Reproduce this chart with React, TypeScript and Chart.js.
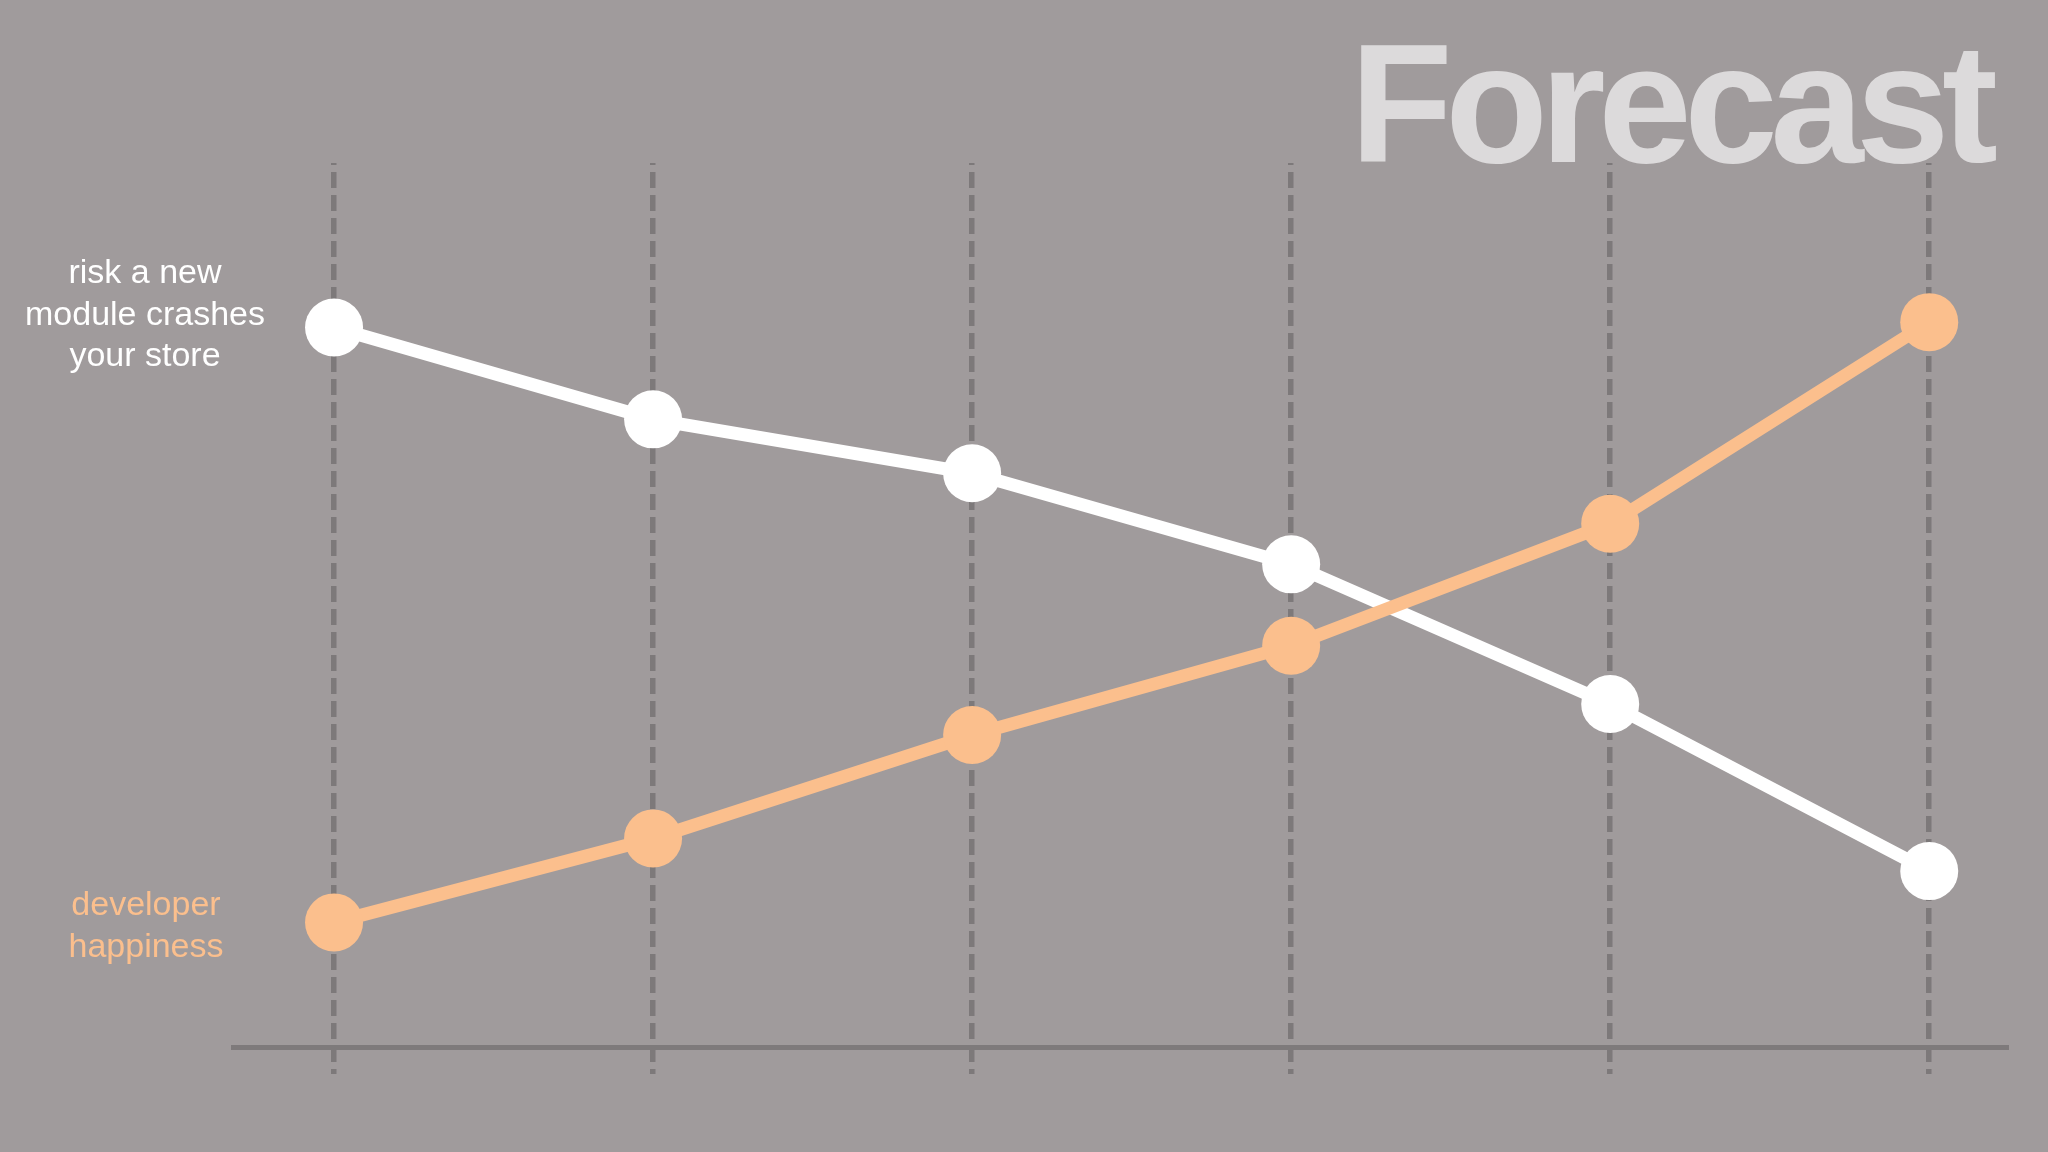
import React, { useEffect, useRef } from "react";
import { Chart, registerables } from "chart.js";

Chart.register(...registerables);

// ---- data ----
const periods = [0, 1, 2, 3, 4, 5];
const riskValues = [81.4, 71.0, 64.9, 54.6, 38.8, 19.9];
const happinessValues = [14.1, 23.6, 35.3, 45.4, 59.2, 82.0];
const baselineValue = [0];
const titleText = "Forecast";
const riskLabel = ["risk a new", "module crashes", "your store"];
const happinessLabel = ["developer", "happiness"];

// ---- styles ----
const BG = "#a09b9c";
const ORANGE = "#fbbf8d";
const WHITE = "#ffffff";
const GRID = "#7d797a";
const AXIS = "#7e7a7b";
const TITLE_COLOR = "#dcdadb";

const textPlugin = {
  id: "forecastText",
  afterDraw(chart: any) {
    const ctx = chart.ctx as CanvasRenderingContext2D;
    ctx.save();
    // title
    ctx.font = 'bold 168px "Liberation Sans", Arial, Helvetica, sans-serif';
    ctx.fillStyle = TITLE_COLOR;
    ctx.textAlign = "left";
    ctx.textBaseline = "alphabetic";
    const plain = ctx.measureText(titleText).width;
    const targetWidth = 648;
    (ctx as any).letterSpacing = (targetWidth - plain) / (titleText.length - 1) + "px";
    ctx.fillText(titleText, 1350, 162);
    (ctx as any).letterSpacing = "0px";

    // series labels
    ctx.font = '34px "Liberation Sans", Arial, Helvetica, sans-serif';
    ctx.textAlign = "center";
    ctx.fillStyle = WHITE;
    riskLabel.forEach((line, i) => ctx.fillText(line, 145, 283 + i * 41.5));
    ctx.fillStyle = ORANGE;
    happinessLabel.forEach((line, i) => ctx.fillText(line, 146, 915 + i * 41.5));
    ctx.restore();
  },
};

export default function App() {
  const canvasRef = useRef<HTMLCanvasElement | null>(null);

  useEffect(() => {
    const canvas = canvasRef.current;
    if (!canvas) return;
    const chart = new Chart(canvas, {
      type: "line",
      data: {
        datasets: [
          {
            label: "developer happiness",
            data: periods.map((x, i) => ({ x, y: happinessValues[i] })),
            borderColor: ORANGE,
            backgroundColor: ORANGE,
            borderWidth: 13,
            pointRadius: 29,
            pointHoverRadius: 29,
            pointBorderWidth: 0,
            pointBackgroundColor: ORANGE,
            tension: 0,
            clip: false as any,
          },
          {
            label: "risk a new module crashes your store",
            data: periods.map((x, i) => ({ x, y: riskValues[i] })),
            borderColor: WHITE,
            backgroundColor: WHITE,
            borderWidth: 13,
            pointRadius: 29,
            pointHoverRadius: 29,
            pointBorderWidth: 0,
            pointBackgroundColor: WHITE,
            tension: 0,
            clip: false as any,
          },
        ],
      },
      options: {
        animation: false,
        responsive: false,
        devicePixelRatio: 1,
        events: [],
        layout: { padding: { left: 231, right: 39, top: 163, bottom: 78 } },
        plugins: {
          legend: { display: false },
          title: { display: false },
          tooltip: { enabled: false },
        },
        scales: {
          x: {
            type: "linear",
            min: -0.323,
            max: 5.25,
            afterBuildTicks: (scale: any) => {
              scale.ticks = periods.map((v) => ({ value: v }));
            },
            ticks: { display: false },
            grid: {
              display: true,
              color: GRID,
              lineWidth: 5.5,
              drawTicks: false,
            },
            border: {
              display: false,
              dash: [16, 7],
              dashOffset: 14,
            },
          },
          y: {
            type: "linear",
            min: -3.05,
            max: 100,
            display: true,
            afterBuildTicks: (scale: any) => {
              scale.ticks = baselineValue.map((v) => ({ value: v }));
            },
            ticks: { display: false },
            grid: {
              display: true,
              color: AXIS,
              lineWidth: 5,
              drawTicks: false,
            },
            border: { display: false },
          },
        },
      },
      plugins: [textPlugin],
    });
    return () => chart.destroy();
  }, []);

  return (
    <div
      style={{
        position: "fixed",
        left: 0,
        top: 0,
        width: 2048,
        height: 1152,
        background: BG,
      }}
    >
      <canvas ref={canvasRef} width={2048} height={1152} style={{ display: "block" }} />
    </div>
  );
}
